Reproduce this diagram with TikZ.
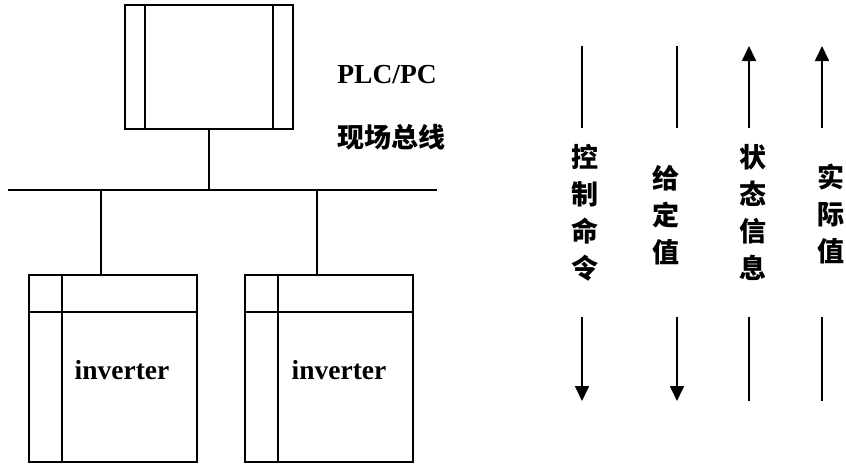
\documentclass[tikz,border=0pt]{standalone}
\usepackage{fontspec}
\setmainfont{Liberation Serif}
\newfontfamily\cjk{Noto Sans CJK SC}
\usetikzlibrary{arrows.meta}

\begin{document}
\begin{tikzpicture}[x=1pt, y=-1pt, line width=1.6pt,
  box/.style={draw, minimum width=168pt, inner sep=0pt},
  lbl/.style={font=\bfseries\fontsize{27.5}{30}\selectfont},
  zh/.style={font=\cjk\bfseries\fontsize{27}{37}\selectfont, align=center},
  sig/.style={line width=1.3pt},
  tip/.style={-{Triangle[length=15pt,width=14pt]}, line width=1.7pt}]
  \useasboundingbox (0,0) rectangle (846,464);
  % controller
  \node[box, minimum height=124pt] (plc) at (209,67) {};
  \draw (145,5) -- (145,129);
  \draw (273,5) -- (273,129);
  \node[lbl] (plcname) at (387,75) {PLC/PC};
  \node[zh] (fieldbus) at (391,137) {现场总线};
  % bus
  \coordinate (busL) at (8,190);
  \coordinate (busR) at (437,190);
  \draw (busL) -- (busR);
  \draw (plc.south) -- (plc.south |- busL);
  % drives
  \node[box, minimum height=187pt] (inv1) at (113,368.5) {};
  \node[box, minimum height=187pt] (inv2) at (329,368.5) {};
  \draw (62,275) -- (62,462);
  \draw (29,312) -- (197,312);
  \draw (278,275) -- (278,462);
  \draw (245,312) -- (413,312);
  \node[lbl] (inv1name) at (122,370) {inverter};
  \node[lbl] (inv2name) at (339,370) {inverter};
  \coordinate (s1) at (101,190);
  \coordinate (s2) at (317,190);
  \draw (s1) -- (s1 |- inv1.north);
  \draw (s2) -- (s2 |- inv2.north);
  % signals
  \foreach \n/\x in {a/582,b/677,c/749,d/822} {
    \coordinate (\n1) at (\x,46);
    \coordinate (\n2) at (\x,128);
    \coordinate (\n3) at (\x,317);
    \coordinate (\n4) at (\x,401);
  }
  \draw[sig] (a1) -- (a2);
  \draw[tip] (a3) -- (a4);
  \draw[sig] (b1) -- (b2);
  \draw[tip] (b3) -- (b4);
  \draw[tip] (c2) -- (c1);
  \draw[sig] (c3) -- (c4);
  \draw[tip] (d2) -- (d1);
  \draw[sig] (d3) -- (d4);
  \node[zh] (cmd) at (585,213) {控\\制\\命\\令};
  \node[zh] (setp) at (666,215) {给\\定\\值};
  \node[zh] (state) at (753,212) {状\\态\\信\\息};
  \node[zh] (actual) at (831,214) {实\\际\\值};
\end{tikzpicture}
\end{document}
